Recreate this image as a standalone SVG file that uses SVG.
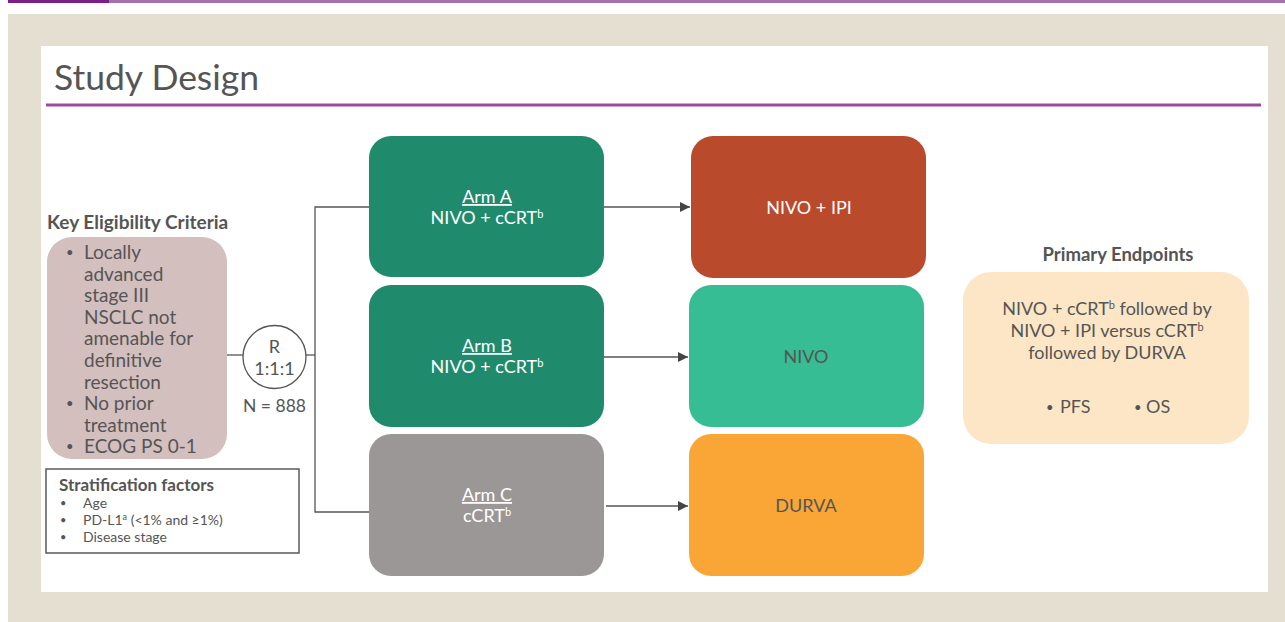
<svg xmlns="http://www.w3.org/2000/svg" width="1285" height="622" viewBox="0 0 1285 622">
<style>
text{font-family:Lato,"Open Sans","DejaVu Sans",sans-serif;fill:#555}
.w{fill:#fff}
.b{font-weight:bold}
.c{text-anchor:middle}
.f18{font-size:18px}
.f19{font-size:19px}
.bu{font-size:13px}
.ln{stroke:#555;stroke-width:1.3;fill:none}
.sup{font-size:11px}
</style>
<defs>
<marker id="ah" markerWidth="12" markerHeight="12" refX="10" refY="5" orient="auto" markerUnits="userSpaceOnUse">
<path d="M0,0 L10,5 L0,10 Z" fill="#444"/>
</marker>
</defs>
<rect width="1285" height="622" fill="#fff"/>
<rect x="109" y="0" width="1176" height="3" fill="#a571a8"/>
<rect x="8" y="0" width="101" height="3" fill="#7b1f86"/>
<rect x="8" y="14" width="1277" height="608" fill="#e5dfd2"/>
<rect x="41" y="46" width="1227" height="546" fill="#fff"/>
<text x="54" y="90" style="font-size:35.5px">Study Design</text>
<rect x="46" y="103.5" width="1215" height="3" fill="#9b4a9f"/>

<g id="connectors">
<line class="ln" x1="227" y1="355" x2="243" y2="355"/>
<line class="ln" x1="306" y1="355" x2="315" y2="355"/>
<polyline class="ln" points="370,207 315,207 315,512 370,512"/>
<line class="ln" x1="604" y1="207" x2="690" y2="207" marker-end="url(#ah)"/>
<line class="ln" x1="604" y1="357" x2="688" y2="357" marker-end="url(#ah)"/>
<line class="ln" x1="606" y1="506" x2="688" y2="506" marker-end="url(#ah)"/>
</g>

<g id="eligibility">
<text x="47" y="229" class="b" style="font-size:19px">Key Eligibility Criteria</text>
<rect x="47" y="237" width="180" height="222" rx="25" fill="#d4bfbf"/>
<g class="f19">
<text x="66" y="257" class="bu">•</text><text x="84" y="259">Locally</text>
<text x="84" y="280.6">advanced</text>
<text x="84" y="302.2">stage III</text>
<text x="84" y="323.8">NSCLC not</text>
<text x="84" y="345.4">amenable for</text>
<text x="84" y="367">definitive</text>
<text x="84" y="388.6">resection</text>
<text x="66" y="408.2" class="bu">•</text><text x="84" y="410.2">No prior</text>
<text x="84" y="431.8">treatment</text>
<text x="66" y="451.4" class="bu">•</text><text x="84" y="453.4">ECOG PS 0-1</text>
</g>
</g>

<g id="stratification">
<rect x="46" y="469" width="253" height="84" fill="#fff" stroke="#595959" stroke-width="1.5"/>
<text x="59" y="491" class="b" style="font-size:17px">Stratification factors</text>
<g style="font-size:14px">
<text x="60" y="507" style="font-size:11px">•</text><text x="83" y="508">Age</text>
<text x="60" y="524" style="font-size:11px">•</text><text x="83" y="525">PD-L1<tspan baseline-shift="super" style="font-size:9px">a</tspan> (&lt;1% and ≥1%)</text>
<text x="60" y="541" style="font-size:11px">•</text><text x="83" y="542">Disease stage</text>
</g>
</g>

<g id="randomization">
<circle cx="274.5" cy="357" r="31.5" fill="#fff" stroke="#555" stroke-width="1.3"/>
<text x="274.5" y="353" class="c f18">R</text>
<text x="274.5" y="375" class="c f18">1:1:1</text>
<text x="274.5" y="412" class="c" style="font-size:17.5px">N = 888</text>
</g>

<g id="armA">
<rect x="369" y="136" width="235" height="141" rx="22" fill="#208b6c"/>
<text x="487" y="203" class="c f18 w" text-decoration="underline">Arm A</text>
<text x="487" y="224" class="c f18 w">NIVO + cCRT<tspan class="sup" baseline-shift="super">b</tspan></text>
</g>
<g id="armB">
<rect x="369" y="285" width="235" height="142" rx="22" fill="#208b6c"/>
<text x="487" y="352" class="c f18 w" text-decoration="underline">Arm B</text>
<text x="487" y="373" class="c f18 w">NIVO + cCRT<tspan class="sup" baseline-shift="super">b</tspan></text>
</g>
<g id="armC">
<rect x="369" y="434" width="235" height="142" rx="22" fill="#9b9797"/>
<text x="487" y="501" class="c f18 w" text-decoration="underline">Arm C</text>
<text x="487" y="522" class="c f18 w">cCRT<tspan class="sup" baseline-shift="super">b</tspan></text>
</g>

<g id="nivoIpi">
<rect x="691" y="136" width="235" height="142" rx="22" fill="#b94a2c"/>
<text x="809" y="214" class="c f18 w">NIVO + IPI</text>
</g>
<g id="nivo">
<rect x="689" y="285" width="235" height="142" rx="22" fill="#36bd93"/>
<text x="806" y="363" class="c f18">NIVO</text>
</g>
<g id="durva">
<rect x="689" y="434" width="235" height="142" rx="22" fill="#f9a636"/>
<text x="806" y="512" class="c f18">DURVA</text>
</g>

<g id="endpoints">
<text x="1118" y="261" class="c b" style="font-size:18.5px">Primary Endpoints</text>
<rect x="963" y="272" width="286" height="172" rx="28" fill="#fde6c6"/>
<text x="1107" y="315" class="c f18">NIVO + cCRT<tspan class="sup" baseline-shift="super">b</tspan> followed by</text>
<text x="1107" y="337" class="c f18">NIVO + IPI versus cCRT<tspan class="sup" baseline-shift="super">b</tspan></text>
<text x="1107" y="359" class="c f18">followed by DURVA</text>
<text x="1046" y="412" class="bu">•</text><text x="1060" y="413" class="f18">PFS</text>
<text x="1134" y="412" class="bu">•</text><text x="1146" y="413" class="f18">OS</text>
</g>
</svg>
